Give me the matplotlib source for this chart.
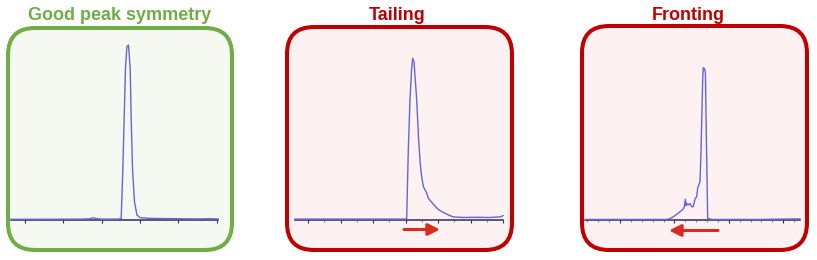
import matplotlib
matplotlib.use("Agg")
import matplotlib.pyplot as plt
from matplotlib.patches import FancyBboxPatch
from matplotlib.ticker import MultipleLocator

# ---------------- data (time, signal %) ----------------
titles = ["Good peak symmetry", "Tailing", "Fronting"]

t_good = [0.634, 1.5, 2.5, 2.70, 2.775, 2.85, 3.0, 3.45, 3.506, 3.550, 3.584, 3.618,
          3.655, 3.697, 3.741, 3.767, 3.801, 3.853, 3.916, 4.002, 4.263, 5.0, 5.5, 5.8, 6.03]
s_good = [0.4, 0.4, 0.5, 0.7, 1.3, 0.8, 0.5, 0.5, 0.9, 28.7, 56.5, 84.3,
          96.3, 97.2, 84.3, 56.5, 28.7, 10.2, 2.8, 1.3, 0.9, 0.7, 0.6, 0.7, 0.6]

t_tail = [0.6, 2.0, 3.0, 4.0, 4.037, 4.086, 4.138, 4.185, 4.222, 4.262, 4.345, 4.40,
          4.425, 4.46, 4.498, 4.55, 4.652, 4.70, 4.855, 5.01, 5.163, 5.32, 5.471, 5.8,
          6.077, 6.6, 6.95, 7.0]
s_tail = [0.5, 0.5, 0.5, 0.5, 0.9, 38.9, 66.7, 83.3, 89.8, 87.8, 66.7, 46.0,
          38.9, 30.0, 24.1, 18.5, 15.0, 12.1, 8.8, 5.8, 4.2, 2.8, 1.7, 1.4,
          1.5, 1.4, 1.8, 2.5]

t_front = [0.357, 1.0, 1.5, 1.85, 1.90, 1.980, 2.05, 2.103, 2.160, 2.182, 2.201, 2.215,
           2.226, 2.256, 2.287, 2.318, 2.348, 2.379, 2.410, 2.429, 2.471, 2.490, 2.502,
           2.520, 2.531, 2.553, 2.570, 2.588, 2.612, 2.692, 3.0, 3.5, 4.0, 4.309]
s_front = [0.3, 0.3, 0.3, 0.3, 0.6, 1.8, 3.3, 4.6, 6.0, 7.4, 11.5, 8.0,
           9.3, 8.3, 9.2, 7.4, 7.4, 11.7, 12.9, 17.8, 21.3, 39.0, 54.6,
           77.8, 84.6, 84.2, 82.0, 45.6, 0.9, 0.3, 0.3, 0.3, 0.5, 0.6]

x_limits = [(0.634, 6.03), (0.6, 7.0), (0.357, 4.309)]
major_steps = [1.0, 1.0, 1.0]
minor_steps = [None, 0.5, 0.2]

# ---------------- styling / layout ----------------
W, H = 817, 260
GREEN = "#70AD47"
RED = "#C00000"
ARROW = "#D92B1F"
fills = ["#F5F9F1", "#FDF1F1", "#FDF1F1"]
edges = [GREEN, RED, RED]
boxes = [(8, 28, 224, 222), (287, 27, 225, 223), (582, 26, 225, 224)]  # x, y_top, w, h (px)
title_x = [120, 397, 688]
axes_px = [(11, 218), (295, 503), (585, 800)]  # left/right of the time axis (px)
AX_BOTTOM, AX_HEIGHT = 220, 180

fig = plt.figure(figsize=(W / 100, H / 100), dpi=100)
bg = fig.add_axes([0, 0, 1, 1])
bg.set_xlim(0, W)
bg.set_ylim(H, 0)
bg.axis("off")

for (x, y, w, h), fc, ec, tx, ttl in zip(boxes, fills, edges, title_x, titles):
    bg.add_patch(FancyBboxPatch((x, y), w, h,
                                boxstyle="round,pad=0,rounding_size=27",
                                fc=fc, ec=ec, lw=2.9, zorder=1))
    bg.text(tx, 20.5, ttl, ha="center", va="baseline", color=ec,
            fontsize=13, fontweight="bold", family="Liberation Sans", zorder=3)

# arrows under the tailing / fronting traces
bg.annotate("", xy=(440, 229.5), xytext=(404, 229.5),
            arrowprops=dict(arrowstyle="-|>,head_length=0.7,head_width=0.35",
                            color=ARROW, lw=2.2, shrinkA=0, shrinkB=0))
bg.annotate("", xy=(669, 230.5), xytext=(718, 230.5),
            arrowprops=dict(arrowstyle="-|>,head_length=0.7,head_width=0.35",
                            color=ARROW, lw=2.2, shrinkA=0, shrinkB=0))

series = [(t_good, s_good), (t_tail, s_tail), (t_front, s_front)]
for i, ((tx_, sy_), (l, r), xl) in enumerate(zip(series, axes_px, x_limits)):
    ax = fig.add_axes([l / W, (H - AX_BOTTOM) / H, (r - l) / W, AX_HEIGHT / H])
    ax.patch.set_alpha(0)
    ax.plot(tx_, sy_, color="#6464E0", lw=1.0, zorder=3, clip_on=False)
    ax.set_xlim(*xl)
    ax.set_ylim(0, 100)
    for s in ("top", "right", "left"):
        ax.spines[s].set_visible(False)
    ax.spines["bottom"].set_color("#2B2B55")
    ax.spines["bottom"].set_linewidth(1.1)
    ax.set_yticks([])
    ax.xaxis.set_major_locator(MultipleLocator(major_steps[i]))
    if minor_steps[i]:
        ax.xaxis.set_minor_locator(MultipleLocator(minor_steps[i]))
    ax.tick_params(axis="x", which="major", direction="out", length=2.5, width=0.8,
                   color="#2B2B55", labelbottom=False)
    ax.tick_params(axis="x", which="minor", direction="out", length=1.5, width=0.6,
                   color="#6A6A8A", labelbottom=False)

fig.savefig("out.png", dpi=100)
